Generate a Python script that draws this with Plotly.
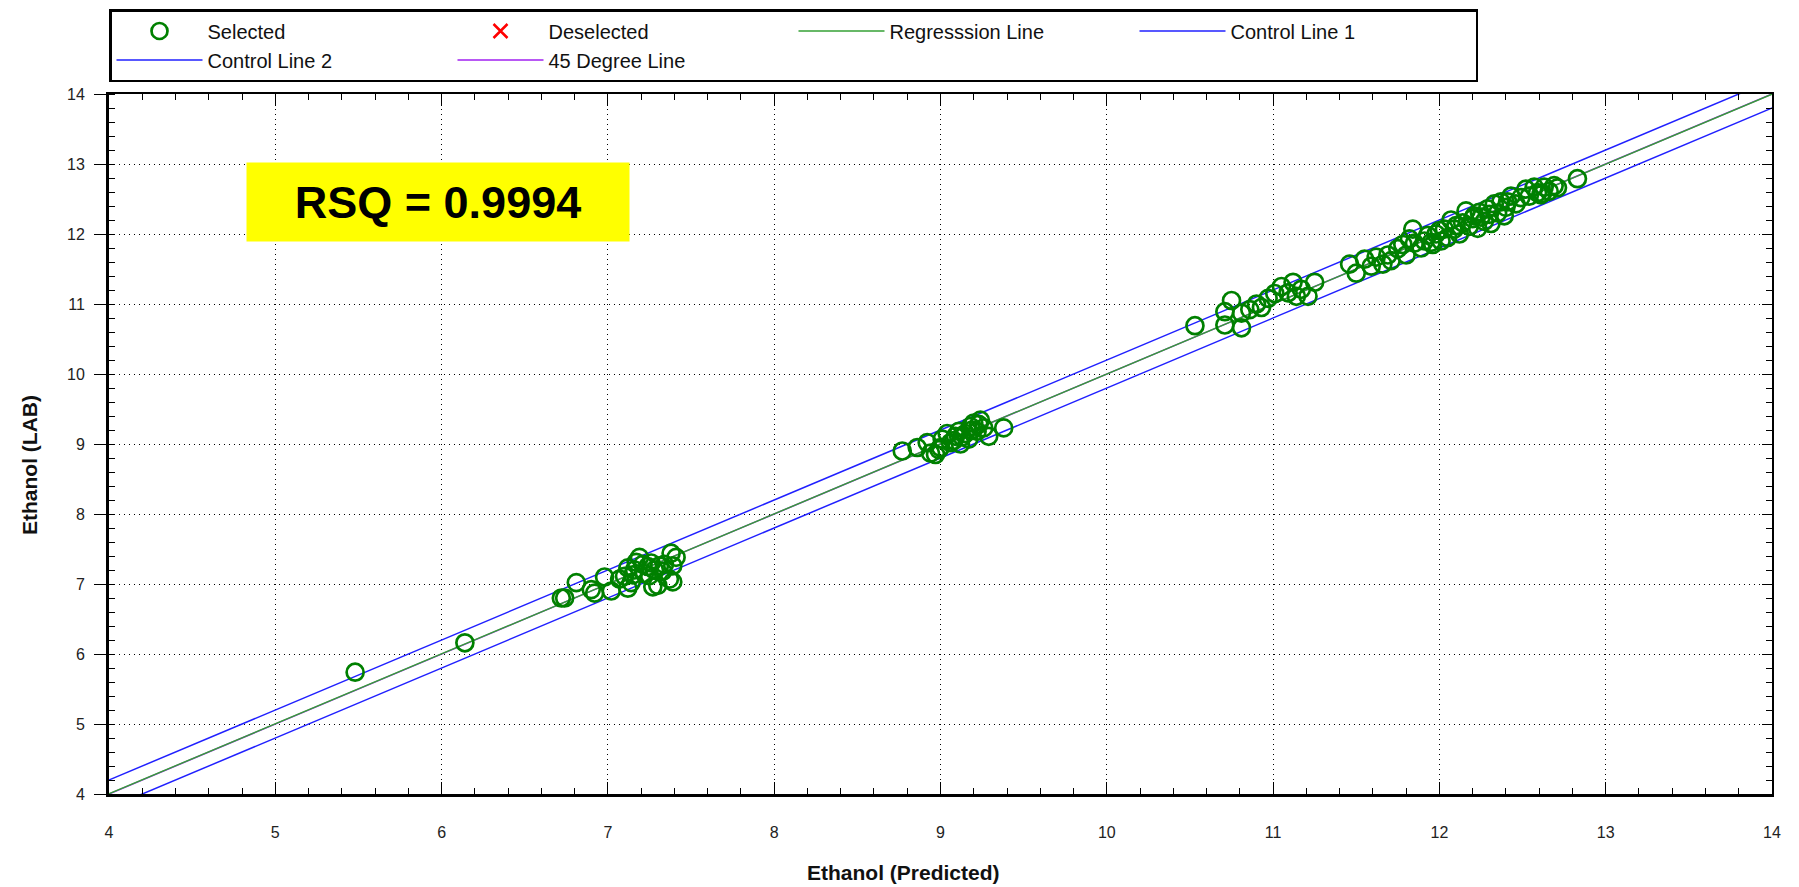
import plotly.graph_objects as go

# ---------------- data ----------------
pred_x = [
    5.48, 6.14,
    6.72, 6.81, 6.90, 6.92, 6.98, 7.02, 7.10, 7.12, 7.14, 7.16, 7.17, 7.19, 7.22, 7.24,
    7.26, 7.28, 7.30, 7.31, 7.33, 7.34, 7.37, 7.38, 7.39, 7.41, 7.21, 7.15, 7.07, 7.25,
    7.12, 7.27, 7.39, 6.74,
    8.77, 8.86, 8.92, 8.94, 8.97, 8.99, 9.01, 9.04, 9.06, 9.09, 9.11, 9.12, 9.15, 9.17,
    9.18, 9.20, 9.22, 9.24, 9.26, 9.29, 9.38, 9.00, 9.08, 9.13, 9.19, 9.23,
    10.53, 10.71, 10.71, 10.75, 10.81, 10.81, 10.86, 10.90, 10.93, 10.97, 11.01, 11.05,
    11.09, 11.12, 11.14, 11.17, 11.21, 11.25,
    11.46, 11.50, 11.55, 11.59, 11.62, 11.66, 11.69, 11.71, 11.75, 11.78, 11.80, 11.82,
    11.84, 11.85, 11.89, 11.91, 11.93, 11.96, 11.98, 12.01, 12.03, 12.05, 12.07, 12.09,
    12.12, 12.14, 12.16, 12.18, 12.21, 12.23, 12.24, 12.27, 12.29, 12.31, 12.33, 12.35,
    12.37, 12.39, 12.41, 12.43, 12.46, 12.49, 12.52, 12.54, 12.57, 12.59, 12.61, 12.63,
    12.66, 12.69, 12.71, 12.83, 12.00, 12.10, 12.20, 12.30, 12.40, 11.95, 12.25, 12.62,
]
lab_y = [
    5.74, 6.16,
    6.80, 7.02, 6.92, 6.87, 7.10, 6.90, 7.11, 7.23, 7.02, 7.20, 7.31, 7.38, 7.15, 7.25,
    7.30, 7.20, 6.98, 7.26, 7.18, 7.28, 7.07, 7.44, 7.26, 7.38, 7.28, 7.13, 7.07, 7.12,
    6.94, 6.96, 7.03, 6.80,
    8.90, 8.95, 9.02, 8.87, 8.85, 8.92, 9.07, 9.15, 9.02, 9.11, 9.18, 9.00, 9.15, 9.07,
    9.25, 9.30, 9.18, 9.34, 9.23, 9.11, 9.23, 8.95, 9.05, 9.10, 9.20, 9.28,
    10.69, 10.70, 10.89, 11.05, 10.87, 10.66, 10.92, 11.00, 10.95, 11.08, 11.15, 11.25,
    11.16, 11.31, 11.11, 11.21, 11.11, 11.31,
    11.57, 11.44, 11.64, 11.54, 11.67, 11.57, 11.70, 11.62, 11.79, 11.85, 11.70, 11.93,
    12.07, 11.87, 11.80, 11.90, 11.98, 11.85, 12.00, 11.90, 12.07, 11.95, 12.20, 12.07,
    12.00, 12.16, 12.33, 12.11, 12.26, 12.08, 12.31, 12.18, 12.36, 12.15, 12.43, 12.30,
    12.46, 12.26, 12.46, 12.54, 12.43, 12.52, 12.64, 12.54, 12.67, 12.59, 12.56, 12.67,
    12.61, 12.69, 12.66, 12.79, 12.05, 12.12, 12.22, 12.28, 12.38, 11.88, 12.24, 12.58,
]

# regression / reference line parameters
reg_slope, reg_intercept = 0.9994, 0.006
control_offset = 0.2
line_x = [3.5, 14.5]
rsq_text = "RSQ = 0.9994"

x_title = "Ethanol (Predicted)"
y_title = "Ethanol (LAB)"
axis_range = [4, 14]

reg_y = [reg_slope * v + reg_intercept for v in line_x]
c1_y = [v + control_offset for v in line_x]
c2_y = [v - control_offset for v in line_x]
deg45_y = list(line_x)

GREEN = "#008000"
BLUE = "#2020FF"
FONT = "Liberation Sans, Arial, sans-serif"

fig = go.Figure()

# drawing order: 45-degree line underneath, regression on top of it, then control lines, then points
fig.add_trace(go.Scatter(x=line_x, y=deg45_y, mode="lines", name="45 Degree Line",
                         legendrank=6, line=dict(color="#A020F0", width=1.5)))
fig.add_trace(go.Scatter(x=line_x, y=reg_y, mode="lines", name="Regresssion Line",
                         legendrank=3, line=dict(color="#34A034", width=1.4)))
fig.add_trace(go.Scatter(x=line_x, y=c1_y, mode="lines", name="Control Line 1",
                         legendrank=4, line=dict(color=BLUE, width=1.5)))
fig.add_trace(go.Scatter(x=line_x, y=c2_y, mode="lines", name="Control Line 2",
                         legendrank=5, line=dict(color=BLUE, width=1.5)))
fig.add_trace(go.Scatter(x=pred_x, y=lab_y, mode="markers", name="Selected",
                         legendrank=1,
                         marker=dict(symbol="circle-open", size=17, color=GREEN,
                                     line=dict(width=2.7, color=GREEN))))
fig.add_trace(go.Scatter(x=[None], y=[None], mode="markers", name="Deselected",
                         legendrank=2,
                         marker=dict(symbol="x-thin-open", size=14, color="red",
                                     line=dict(width=2.5, color="red"))))

tickfont = dict(family=FONT, size=16, color="#222")

fig.update_layout(
    width=1799, height=887,
    margin=dict(l=109, r=27, t=94, b=93, autoexpand=False),
    paper_bgcolor="white", plot_bgcolor="white",
    showlegend=True,
    legend=dict(orientation="h", x=0, xanchor="left", y=1 + (94 - 9) / 700, yanchor="top",
                bordercolor="black", borderwidth=2.5,
                font=dict(family=FONT, size=20, color="#111"),
                itemwidth=86, entrywidth=240, tracegroupgap=0,
                traceorder="normal"),
    xaxis=dict(range=axis_range, dtick=1, tick0=4, showline=True, linewidth=3,
               linecolor="black", ticks="inside", ticklen=12, tickwidth=1,
               tickcolor="black", ticklabelstandoff=22, tickfont=tickfont,
               showgrid=True, gridcolor="black", griddash="1px,4px", gridwidth=1,
               zeroline=False,
               minor=dict(dtick=0.2, ticks="inside", ticklen=6, tickcolor="black",
                          showgrid=False)),
    yaxis=dict(range=axis_range, dtick=1, tick0=4, showline=True, linewidth=3,
               linecolor="black", ticks="outside", ticklen=12, tickwidth=1,
               tickcolor="black", ticklabelstandoff=6, tickfont=tickfont,
               showgrid=True, gridcolor="black", griddash="1px,4px", gridwidth=1,
               zeroline=False,
               minor=dict(dtick=0.2, ticks="inside", ticklen=6, tickcolor="black",
                          showgrid=False)),
    xaxis2=dict(range=axis_range, overlaying="x", side="top", dtick=1, tick0=4,
                showline=True, linewidth=2, linecolor="black", ticks="inside",
                ticklen=12, tickcolor="black", showticklabels=False, showgrid=False,
                zeroline=False,
                minor=dict(dtick=0.2, ticks="inside", ticklen=6, tickcolor="black")),
    yaxis2=dict(range=axis_range, overlaying="y", side="right", dtick=1, tick0=4,
                showline=True, linewidth=2, linecolor="black", ticks="inside",
                ticklen=10, tickcolor="black", showticklabels=False, showgrid=False,
                zeroline=False,
                minor=dict(dtick=0.2, ticks="inside", ticklen=6, tickcolor="black")),
    annotations=[
        dict(text=f"<b>{rsq_text}</b>", xref="paper", yref="paper", x=0.198, y=0.846,
             xanchor="center", yanchor="middle", showarrow=False,
             font=dict(family=FONT, size=45, color="black"),
             bgcolor="#FFFF00", width=370, height=66, borderpad=6),
        dict(text=f"<b>{x_title}</b>", xref="paper", yref="paper", x=(903 - 109) / 1663,
             y=-(872 - 794) / 700, xanchor="center", yanchor="middle", showarrow=False,
             font=dict(family=FONT, size=21, color="#111")),
        dict(text=f"<b>{y_title}</b>", xref="paper", yref="paper", x=-(109 - 29) / 1663,
             y=(794 - 465) / 700, xanchor="center", yanchor="middle", showarrow=False,
             textangle=-90, font=dict(family=FONT, size=21, color="#111")),
    ],
)

# invisible trace that activates the mirrored top/right axes
fig.add_trace(go.Scatter(x=[None], y=[None], xaxis="x2", yaxis="y2", showlegend=False,
                         hoverinfo="skip"))

fig.write_html("out.html")
